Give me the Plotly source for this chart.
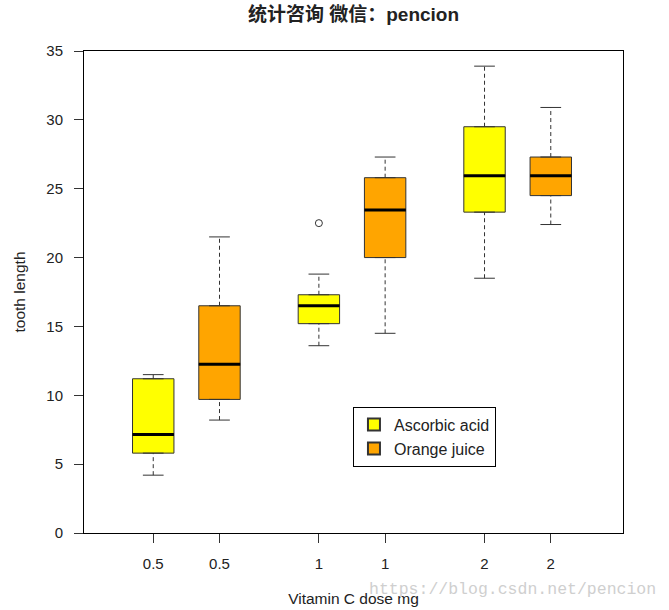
import plotly.graph_objects as go

# ---- data (ToothGrowth) ----
dose_labels = ["0.5", "0.5", "1", "1", "2", "2"]
vc_pos = [0.8, 1.8, 2.8]
oj_pos = [1.2, 2.2, 3.2]

vc_low = [4.2, 13.6, 18.5]
vc_q1 = [5.8, 15.2, 23.3]
vc_med = [7.15, 16.5, 25.95]
vc_q3 = [11.2, 17.3, 29.5]
vc_high = [11.5, 18.8, 33.9]

oj_low = [8.2, 14.5, 22.4]
oj_q1 = [9.7, 20.0, 24.5]
oj_med = [12.25, 23.45, 25.95]
oj_q3 = [16.5, 25.8, 27.3]
oj_high = [21.5, 27.3, 30.9]

out_x = [1.8]
out_y = [22.5]

BOXW = 0.25
CAPW = 0.125
EDGE = "#333333"
FONT = "Liberation Sans, Arial, sans-serif"

fig = go.Figure()


def add_group(name, pos, low, q1, med, q3, high, color):
    fig.add_trace(go.Box(
        name=name, x=pos, q1=q1, median=med, q3=q3,
        lowerfence=q1, upperfence=q3, width=BOXW,
        fillcolor=color, line=dict(color=EDGE, width=1),
        boxpoints=False, hoverinfo="skip", showlegend=True,
    ))
    # dashed whiskers
    wx, wy = [], []
    for p, lo, a, b, hi in zip(pos, low, q1, q3, high):
        wx += [p, p, None, p, p, None]
        wy += [lo, a, None, b, hi, None]
    fig.add_trace(go.Scatter(x=wx, y=wy, mode="lines",
                             line=dict(color=EDGE, width=1, dash="4px,3px"),
                             showlegend=False, hoverinfo="skip"))
    # staples
    sx, sy = [], []
    for p, lo, hi in zip(pos, low, high):
        sx += [p - CAPW / 2, p + CAPW / 2, None, p - CAPW / 2, p + CAPW / 2, None]
        sy += [lo, lo, None, hi, hi, None]
    fig.add_trace(go.Scatter(x=sx, y=sy, mode="lines",
                             line=dict(color=EDGE, width=1),
                             showlegend=False, hoverinfo="skip"))
    # thick medians
    mx, my = [], []
    for p, m in zip(pos, med):
        mx += [p - BOXW / 2, p + BOXW / 2, None]
        my += [m, m, None]
    fig.add_trace(go.Scatter(x=mx, y=my, mode="lines",
                             line=dict(color="black", width=3),
                             showlegend=False, hoverinfo="skip"))


add_group("Ascorbic acid", vc_pos, vc_low, vc_q1, vc_med, vc_q3, vc_high, "yellow")
add_group("Orange juice", oj_pos, oj_low, oj_q1, oj_med, oj_q3, oj_high, "orange")

fig.add_trace(go.Scatter(x=out_x, y=out_y, mode="markers",
                         marker=dict(symbol="circle-open", size=7, color=EDGE,
                                     line=dict(width=1, color=EDGE)),
                         showlegend=False, hoverinfo="skip"))

fig.update_layout(
    width=669, height=610,
    margin=dict(l=84, r=46, t=51, b=77),
    plot_bgcolor="white", paper_bgcolor="white",
    font=dict(family=FONT, size=15, color="#222222"),
    title=dict(text="<b>统计咨询 微信：pencion</b>", x=0.5, xref="paper",
               xanchor="center", y=0.977, yanchor="middle",
               font=dict(family="Liberation Sans, Noto Sans CJK SC, sans-serif", size=19, color="#222222")),
    showlegend=True,
    legend=dict(x=0.499, y=0.262, xanchor="left", yanchor="top",
                bgcolor="white", bordercolor="black", borderwidth=1,
                font=dict(family=FONT, size=16, color="#222222"),
                itemsizing="constant", tracegroupgap=0),
    boxmode="overlay",
)

fig.update_xaxes(
    range=[0.382, 3.636], tickmode="array",
    tickvals=[vc_pos[0], oj_pos[0], vc_pos[1], oj_pos[1], vc_pos[2], oj_pos[2]],
    ticktext=dose_labels, automargin=False,
    ticks="outside", ticklen=9, tickcolor="#333333", showgrid=False, zeroline=False,
    showline=True, linecolor="black", linewidth=1, mirror=True,
    ticklabelstandoff=8,
    title=dict(text="Vitamin C dose mg", standoff=22, font=dict(size=15.5)),
    tickfont=dict(size=15),
)
fig.update_yaxes(
    range=[0, 35], tickmode="array", tickvals=[0, 5, 10, 15, 20, 25, 30, 35],
    automargin=False,
    ticks="outside", ticklen=9, tickcolor="#333333", showgrid=False, zeroline=False,
    showline=True, linecolor="black", linewidth=1, mirror=True,
    ticklabelstandoff=8,
    title=dict(text="tooth length", standoff=16, font=dict(size=15.5)),
    tickfont=dict(size=15),
)

fig.add_annotation(text="https://blog.csdn.net/pencion", xref="paper", yref="paper",
                   x=1.065, y=-0.118, xanchor="right", yanchor="middle", showarrow=False,
                   font=dict(family="Liberation Mono, DejaVu Serif, serif", size=16.5, color="#cfcfcf"))

fig.write_html("out.html")
